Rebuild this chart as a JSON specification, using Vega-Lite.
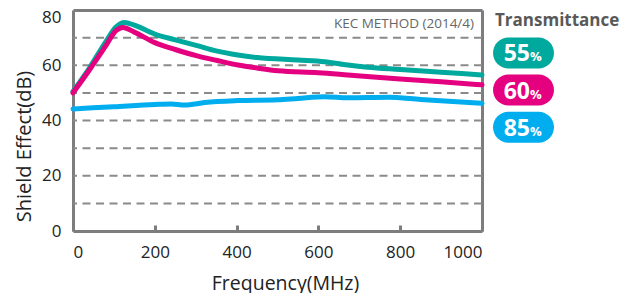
{
  "$schema": "https://vega.github.io/schema/vega-lite/v6.json",
  "padding": {"left": 14, "top": 8, "right": 0, "bottom": 0},
  "autosize": {"type": "pad"},
  "bounds": "flush",
  "spacing": 11,
  "resolve": {"scale": {"y": "independent"}},
  "config": {"view": {"stroke": null}, "font": "Open Sans"},
  "datasets": {
    "curves": [
      {"f": 0, "se": 50.5, "t": "55%"}, {"f": 40, "se": 59, "t": "55%"}, {"f": 80, "se": 68.5, "t": "55%"}, {"f": 105, "se": 73.8, "t": "55%"}, {"f": 126, "se": 75.5, "t": "55%"}, {"f": 150, "se": 74.5, "t": "55%"}, {"f": 200, "se": 71.3, "t": "55%"}, {"f": 250, "se": 69.2, "t": "55%"}, {"f": 306, "se": 67, "t": "55%"}, {"f": 350, "se": 65.2, "t": "55%"}, {"f": 403, "se": 63.7, "t": "55%"}, {"f": 450, "se": 62.8, "t": "55%"}, {"f": 550, "se": 61.9, "t": "55%"}, {"f": 615, "se": 61.3, "t": "55%"}, {"f": 672, "se": 60.1, "t": "55%"}, {"f": 721, "se": 59.3, "t": "55%"}, {"f": 800, "se": 58.5, "t": "55%"}, {"f": 900, "se": 57.5, "t": "55%"}, {"f": 1000, "se": 56.5, "t": "55%"},
      {"f": 0, "se": 50, "t": "60%"}, {"f": 40, "se": 58.3, "t": "60%"}, {"f": 80, "se": 67, "t": "60%"}, {"f": 105, "se": 72.5, "t": "60%"}, {"f": 122, "se": 73.7, "t": "60%"}, {"f": 150, "se": 72, "t": "60%"}, {"f": 200, "se": 68.2, "t": "60%"}, {"f": 250, "se": 65.7, "t": "60%"}, {"f": 306, "se": 63.3, "t": "60%"}, {"f": 350, "se": 61.8, "t": "60%"}, {"f": 403, "se": 60.1, "t": "60%"}, {"f": 450, "se": 59, "t": "60%"}, {"f": 501, "se": 58, "t": "60%"}, {"f": 600, "se": 57.3, "t": "60%"}, {"f": 672, "se": 56.5, "t": "60%"}, {"f": 800, "se": 55, "t": "60%"}, {"f": 900, "se": 54, "t": "60%"}, {"f": 1000, "se": 52.9, "t": "60%"},
      {"f": 0, "se": 44.2, "t": "85%"}, {"f": 100, "se": 45, "t": "85%"}, {"f": 200, "se": 45.8, "t": "85%"}, {"f": 240, "se": 46, "t": "85%"}, {"f": 273, "se": 45.6, "t": "85%"}, {"f": 322, "se": 46.5, "t": "85%"}, {"f": 403, "se": 47.2, "t": "85%"}, {"f": 500, "se": 47.5, "t": "85%"}, {"f": 550, "se": 48, "t": "85%"}, {"f": 615, "se": 48.6, "t": "85%"}, {"f": 672, "se": 48.2, "t": "85%"}, {"f": 770, "se": 48.4, "t": "85%"}, {"f": 850, "se": 47.6, "t": "85%"}, {"f": 1000, "se": 46.2, "t": "85%"}
    ],
    "gridlevels": [{"g": 10}, {"g": 20}, {"g": 30}, {"g": 40}, {"g": 50}, {"g": 60}, {"g": 70}],
    "legend": [
      {"item": "Transmittance", "kind": "title"},
      {"item": "55%", "num": "55", "kind": "pill"},
      {"item": "60%", "num": "60", "kind": "pill"},
      {"item": "85%", "num": "85", "kind": "pill"}
    ]
  },
  "hconcat": [
    {
      "width": 409,
      "height": 221,
      "resolve": {"axis": {"x": "independent", "y": "independent"}},
      "layer": [
        {
          "data": {"name": "gridlevels"},
          "mark": {"type": "rule", "strokeDash": [8, 5.5], "color": "#8a8a8a", "strokeWidth": 2},
          "encoding": {
            "y": {
              "field": "g", "type": "quantitative",
              "scale": {"domain": [0, 80], "nice": false},
              "axis": {
                "orient": "right", "values": [0, 80], "labels": false, "ticks": false, "grid": false, "title": null,
                "domain": true, "domainColor": "#7d7d7d", "domainWidth": 3
              }
            }
          }
        },
        {
          "data": {"name": "curves"},
          "mark": {"type": "line", "strokeWidth": 5, "interpolate": "monotone", "strokeCap": "round", "strokeJoin": "round"},
          "encoding": {
            "x": {
              "field": "f", "type": "quantitative",
              "scale": {"domain": [0, 1000], "nice": false},
              "axis": {
                "values": [0, 200, 400, 600, 800, 1000],
                "format": "d",
                "title": "Frequency(MHz)",
                "grid": false,
                "domain": true, "domainColor": "#7d7d7d", "domainWidth": 3,
                "ticks": true, "tickSize": -6, "tickWidth": 3, "tickColor": "#7d7d7d",
                "labelFontSize": 17, "labelColor": "#222222", "labelPadding": 19,
                "titleFontSize": 19.5, "titleFontWeight": "normal", "titleColor": "#222222", "titlePadding": 14,
                "titleX": 212
              }
            },
            "y": {
              "field": "se", "type": "quantitative",
              "scale": {"domain": [0, 80], "nice": false},
              "axis": {
                "values": [0, 20, 40, 60, 80],
                "title": "Shield Effect(dB)",
                "domain": true, "domainColor": "#7d7d7d", "domainWidth": 3,
                "ticks": false, "grid": false,
                "labelOffset": {"condition": {"test": "datum.value === 80", "value": 7}, "value": 0},
                "labelFontSize": 17, "labelColor": "#222222", "labelPadding": 12,
                "titleFontSize": 20, "titleFontWeight": "normal", "titleColor": "#222222", "titlePadding": 7,
                "titleY": 136
              }
            },
            "color": {
              "field": "t", "type": "nominal",
              "scale": {"domain": ["85%", "60%", "55%"], "range": ["#00AEEF", "#E4007F", "#00A99D"]},
              "legend": null
            }
          }
        },
        {
          "data": {"values": [{"note": "KEC METHOD (2014/4)"}]},
          "mark": {"type": "text", "align": "right", "baseline": "middle", "dx": -8, "dy": 14, "fontSize": 13.5, "color": "#666666"},
          "encoding": {
            "x": {
              "datum": 1000, "type": "quantitative",
              "axis": {
                "orient": "top", "values": [0, 1000], "labels": false, "ticks": false, "grid": false, "title": null,
                "domain": true, "domainColor": "#7d7d7d", "domainWidth": 3
              }
            },
            "y": {"datum": 80, "type": "quantitative", "axis": null},
            "text": {"field": "note"}
          }
        }
      ]
    },
    {
      "width": 61,
      "height": 123,
      "data": {"name": "legend"},
      "encoding": {
        "y": {
          "field": "item", "type": "nominal",
          "scale": {"type": "point", "domain": ["Transmittance", "55%", "60%", "85%"], "padding": 0.156},
          "axis": null
        }
      },
      "layer": [
        {
          "transform": [{"filter": "datum.kind === 'pill'"}],
          "mark": {"type": "bar", "height": 31, "cornerRadius": 15.5},
          "encoding": {
            "color": {
              "field": "item", "type": "nominal",
              "scale": {"domain": ["85%", "60%", "55%"], "range": ["#00AEEF", "#E4007F", "#00A99D"]},
              "legend": null
            }
          }
        },
        {
          "transform": [{"filter": "datum.kind === 'pill'"}],
          "mark": {"type": "text", "align": "right", "baseline": "alphabetic", "dx": 6.5, "dy": 8.5, "fontSize": 23, "fontWeight": "bold", "color": "white"},
          "encoding": {"text": {"field": "num"}}
        },
        {
          "transform": [{"filter": "datum.kind === 'pill'"}],
          "mark": {"type": "text", "align": "left", "baseline": "alphabetic", "dx": 6.5, "dy": 8.5, "fontSize": 13, "fontWeight": "bold", "color": "white"},
          "encoding": {"text": {"value": "%"}}
        },
        {
          "transform": [{"filter": "datum.kind === 'title'"}],
          "mark": {"type": "text", "align": "left", "baseline": "middle", "dx": -28.5, "dy": 5, "fontSize": 17, "fontWeight": "bold", "color": "#595959"},
          "encoding": {"text": {"field": "item"}}
        }
      ]
    }
  ]
}
